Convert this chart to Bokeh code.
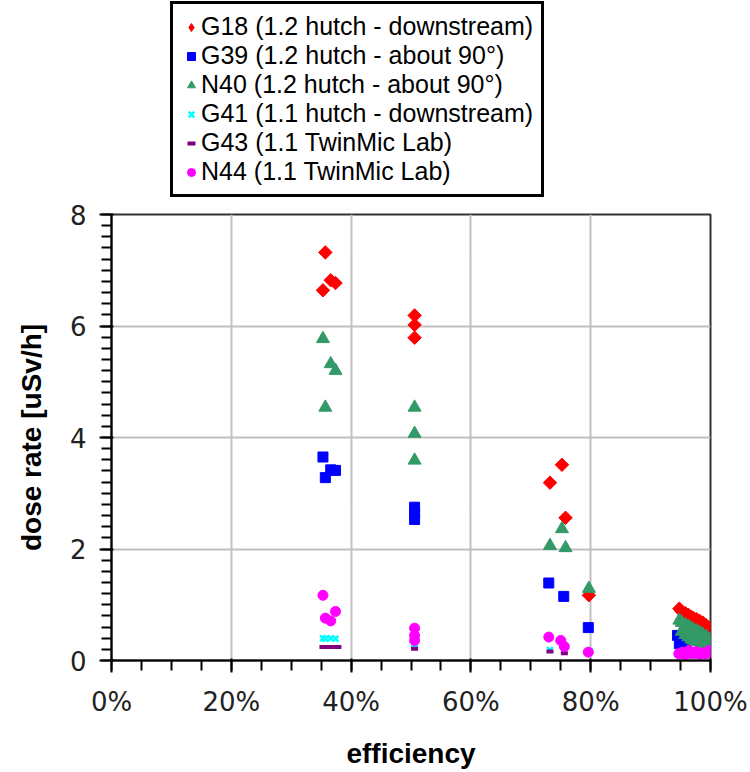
from bokeh.plotting import figure
from bokeh.layouts import column
from bokeh.models import Legend, LegendItem, NumeralTickFormatter, FixedTicker, Range1d
from bokeh.embed import file_html
from bokeh.resources import INLINE
import math

# ---- data (efficiency as fraction, dose rate in uSv/h) ----
g18_x = [0.353, 0.357, 0.366, 0.374, 0.506, 0.506, 0.506, 0.732, 0.752, 0.758, 0.797,
         0.948, 0.952, 0.958, 0.963, 0.968, 0.972, 0.977, 0.982, 0.987, 0.993, 0.998]
g18_y = [6.64, 7.32, 6.82, 6.77, 6.19, 6.02, 5.79, 3.19, 3.51, 2.56, 1.17,
         0.93, 0.88, 0.85, 0.82, 0.78, 0.76, 0.74, 0.71, 0.68, 0.63, 0.58]

g39_x = [0.353, 0.357, 0.366, 0.374, 0.506, 0.506, 0.506, 0.730, 0.755, 0.796,
         0.945, 0.948, 0.953, 0.960, 0.998, 0.998]
g39_y = [3.65, 3.28, 3.42, 3.41, 2.75, 2.64, 2.53, 1.39, 1.15, 0.59,
         0.45, 0.30, 0.25, 0.20, 0.33, 0.22]

n40_x = [0.353, 0.357, 0.366, 0.374, 0.506, 0.506, 0.506, 0.732, 0.752, 0.758, 0.797,
         0.948, 0.952, 0.958, 0.963, 0.968, 0.972, 0.977, 0.982, 0.987, 0.993, 0.998,
         0.952, 0.958, 0.963, 0.968, 0.972, 0.977, 0.982, 0.987, 0.993, 0.998]
n40_y = [5.77, 4.54, 5.32, 5.20, 4.54, 4.07, 3.59, 2.06, 2.36, 2.02, 1.29,
         0.72, 0.68, 0.64, 0.61, 0.58, 0.55, 0.53, 0.50, 0.47, 0.43, 0.38,
         0.52, 0.46, 0.42, 0.38, 0.36, 0.34, 0.33, 0.31, 0.30, 0.28]

g41_x = [0.353, 0.357, 0.366, 0.374, 0.506, 0.506, 0.506, 0.732, 0.756, 0.799,
         0.950, 0.960, 0.970, 0.980, 0.990]
g41_y = [0.40, 0.39, 0.40, 0.39, 0.30, 0.28, 0.26, 0.19, 0.17, 0.17,
         0.10, 0.11, 0.10, 0.09, 0.10]

g43_x = [0.353, 0.361, 0.370, 0.378, 0.506, 0.732, 0.756,
         0.950, 0.960, 0.970, 0.980, 0.990]
g43_y = [0.24, 0.24, 0.24, 0.24, 0.21, 0.16, 0.13,
         0.07, 0.08, 0.07, 0.08, 0.07]

n44_x = [0.353, 0.357, 0.366, 0.374, 0.506, 0.506, 0.506, 0.730, 0.750, 0.756, 0.796,
         0.947, 0.953, 0.958, 0.964, 0.970, 0.976, 0.982, 0.988, 0.993, 0.998]
n44_y = [1.17, 0.76, 0.71, 0.88, 0.58, 0.45, 0.36, 0.42, 0.36, 0.25, 0.15,
         0.12, 0.15, 0.10, 0.18, 0.13, 0.16, 0.11, 0.14, 0.12, 0.18]

series_names = ["G18 (1.2 hutch - downstream)", "G39 (1.2 hutch - about 90°)",
                "N40 (1.2 hutch - about 90°)", "G41 (1.1 hutch - downstream)",
                "G43 (1.1 TwinMic Lab)", "N44 (1.1 TwinMic Lab)"]

x_major = [0, 0.2, 0.4, 0.6, 0.8, 1.0]
x_minor = [i / 20 for i in range(21)]
y_major = [0, 2, 4, 6, 8]
y_minor = [i / 5 for i in range(41)]

styles = [
    dict(marker="square", angle=math.pi / 4, size=9.5, fill_color="#ff0000", line_color="#ff0000", line_width=1),
    dict(marker="square", size=10, fill_color="#0000ff", line_color="#0000ff", line_width=1),
    dict(marker="triangle", size=13, fill_color="#339966", line_color="#339966", line_width=1),
    dict(marker="x", size=8, line_color="#00ffff", line_width=2.5),
    dict(marker="dash", size=7, line_color="#800080", line_width=4),
    dict(marker="circle", size=10, fill_color="#ff00ff", line_color="#ff00ff", line_width=1),
]
legend_styles = [dict(st) for st in styles]
legend_styles[0] = dict(marker="diamond", angle=math.pi / 2, fill_color="#ff0000",
                        line_color="#ff0000", line_width=1)
xs = [g18_x, g39_x, n40_x, g41_x, g43_x, n44_x]
ys = [g18_y, g39_y, n40_y, g41_y, g43_y, n44_y]

# ---- main plot ----
p = figure(frame_width=599, frame_height=446,
           min_border_left=111, min_border_right=40,
           min_border_top=14, min_border_bottom=112,
           x_range=Range1d(0, 1), y_range=Range1d(0, 8),
           output_backend="svg", toolbar_location=None)

p.background_fill_color = "white"
p.border_fill_color = "white"
p.outline_line_color = "#333333"
p.outline_line_width = 2

for ax in (p.xaxis[0], p.yaxis[0]):
    ax.axis_line_color = "black"
    ax.axis_line_width = 2
    ax.major_tick_line_color = "black"
    ax.major_tick_line_width = 2
    ax.minor_tick_line_color = "black"
    ax.minor_tick_line_width = 2
    ax.major_tick_out = 12
    ax.major_tick_in = 2
    ax.minor_tick_out = 10
    ax.minor_tick_in = 0
    ax.major_label_text_font = "DejaVu Sans"
    ax.major_label_text_font_size = "26px"
    ax.major_label_text_color = "#222222"
    ax.axis_label_text_font = "Liberation Sans"
    ax.axis_label_text_font_style = "bold"
    ax.axis_label_text_font_size = "28px"
    ax.axis_label_text_color = "black"

p.xaxis[0].ticker = FixedTicker(ticks=x_major, minor_ticks=x_minor)
p.yaxis[0].ticker = FixedTicker(ticks=y_major, minor_ticks=y_minor)
p.xaxis[0].formatter = NumeralTickFormatter(format="0%")
p.xaxis[0].axis_label = "efficiency"
p.yaxis[0].axis_label = "dose rate [uSv/h]"
p.xaxis[0].major_label_standoff = 14
p.xaxis[0].axis_label_standoff = 18
p.yaxis[0].major_label_standoff = 13
p.yaxis[0].axis_label_standoff = 20

p.xgrid.grid_line_color = "#c0c0c0"
p.xgrid.grid_line_width = 2
p.ygrid.grid_line_color = "#c0c0c0"
p.ygrid.grid_line_width = 2

for x, y, st in zip(xs, ys, styles):
    p.scatter(x, y, **st)

# ---- legend panel (separate strip above the plot) ----
lg = figure(frame_width=750, frame_height=200, min_border=0,
            x_range=Range1d(0, 1), y_range=Range1d(0, 1),
            x_axis_type=None, y_axis_type=None,
            output_backend="svg", toolbar_location=None)
lg.outline_line_color = None
lg.xgrid.visible = False
lg.ygrid.visible = False
lg.background_fill_color = "white"
lg.border_fill_color = "white"

items = []
for name, st in zip(series_names, legend_styles):
    r = lg.scatter([-10], [-10], **st)
    items.append(LegendItem(label=name, renderers=[r]))

legend = Legend(items=items, location=(170, 3))
legend.label_text_font = "Liberation Sans"
legend.label_text_font_size = "25px"
legend.label_text_color = "black"
legend.label_height = 26
legend.glyph_height = 20
legend.glyph_width = 20
legend.label_standoff = 0
legend.spacing = 0
legend.padding = 8
legend.margin = 0
legend.border_line_color = "black"
legend.border_line_alpha = 1.0
legend.border_line_width = 3
legend.background_fill_color = "white"
legend.background_fill_alpha = 1.0
lg.add_layout(legend, "center")

layout = column(lg, p, spacing=0)
open("out.html", "w").write(file_html(layout, INLINE))
